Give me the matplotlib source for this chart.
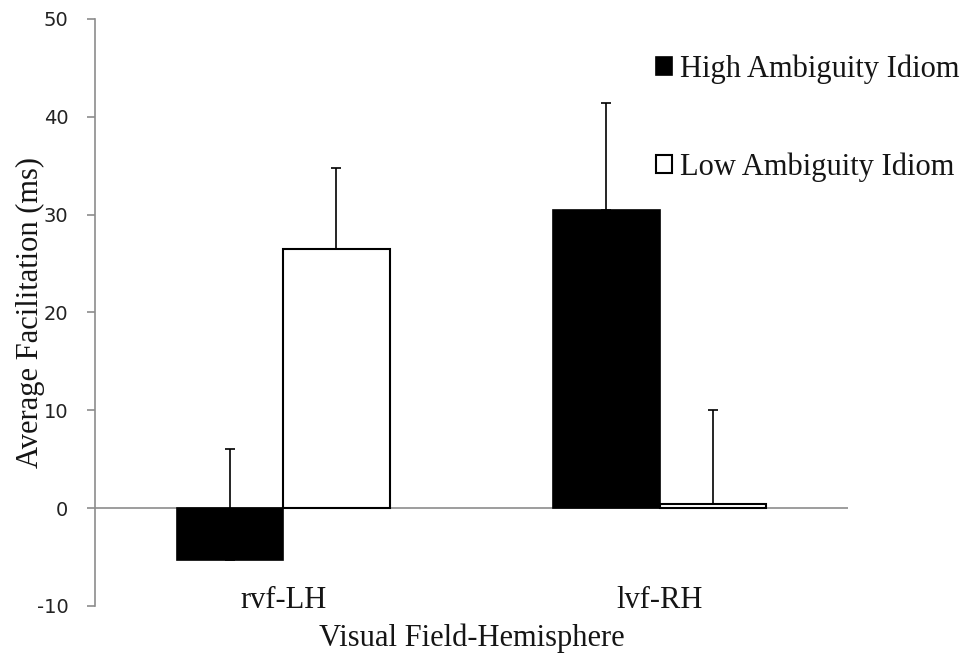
import matplotlib.pyplot as plt
import matplotlib.transforms as mtransforms
import numpy as np

# data
groups = ["rvf-LH", "lvf-RH"]
high_amb = [-5.3, 30.5]
low_amb = [26.5, 0.4]
high_err = [11.3, 10.9]
low_err = [8.3, 9.6]

fig = plt.figure(figsize=(9.68, 6.54), dpi=100)
ax = fig.add_axes([0.098, 0.0734, 0.778, 0.8976])

x = np.arange(len(groups))
w = 0.283
serif = ["Liberation Serif", "DejaVu Serif"]
txt_col = "#151515"

ax.bar(x - w / 2, high_amb, w, color="black", edgecolor="black", linewidth=1.2,
       label="High Ambiguity Idiom", zorder=2)
ax.bar(x + w / 2, low_amb, w, color="white", edgecolor="black", linewidth=1.5,
       label="Low Ambiguity Idiom", zorder=2)

ax.errorbar(x - w / 2, high_amb, yerr=[[0] * len(x), high_err], fmt="none",
            ecolor="black", elinewidth=1.2, capsize=3.6, capthick=1.2, zorder=3)
ax.errorbar(x + w / 2, low_amb, yerr=[[0] * len(x), low_err], fmt="none",
            ecolor="black", elinewidth=1.2, capsize=3.6, capthick=1.2, zorder=3)

ax.axhline(0, color="#8c8c8c", linewidth=1.2, zorder=1)

ax.set_xlim(-0.5, 1.5)
ax.set_ylim(-10, 50)
ax.set_yticks(range(-10, 51, 10))
ax.set_yticklabels([str(v) for v in range(-10, 51, 10)])
ax.tick_params(axis="y", direction="out", length=6, color="#8c8c8c", width=1.2,
               labelsize=14, labelcolor="#222222", pad=13)

ax.set_xticks([])
trans = mtransforms.blended_transform_factory(ax.transData, fig.transFigure)
for xi, g in zip(x, groups):
    ax.text(xi, 1 - 608 / 654, g, transform=trans, ha="center", va="baseline",
            fontsize=22, family=serif, color=txt_col)

for s in ["top", "right", "bottom"]:
    ax.spines[s].set_visible(False)
ax.spines["left"].set_color("#8c8c8c")
ax.spines["left"].set_linewidth(1.2)

ax.set_ylabel("Average Facilitation (ms)", fontsize=22, family=serif,
              color=txt_col)
ax.yaxis.set_label_coords(-0.066, 0.5)
fig.text(0.487, 1 - 646 / 654, "Visual Field-Hemisphere", ha="center",
         va="baseline", fontsize=22, family=serif, color=txt_col)

leg = ax.legend(loc="upper left", bbox_to_anchor=(656 / 968, 1 - 54 / 654),
                bbox_transform=fig.transFigure, frameon=False, borderpad=0,
                borderaxespad=0, prop={"family": serif, "size": 22},
                labelspacing=2.25, handlelength=0.52, handleheight=0.52,
                handletextpad=0.25)
for t in leg.get_texts():
    t.set_color(txt_col)

fig.savefig("out.png", dpi=100)
